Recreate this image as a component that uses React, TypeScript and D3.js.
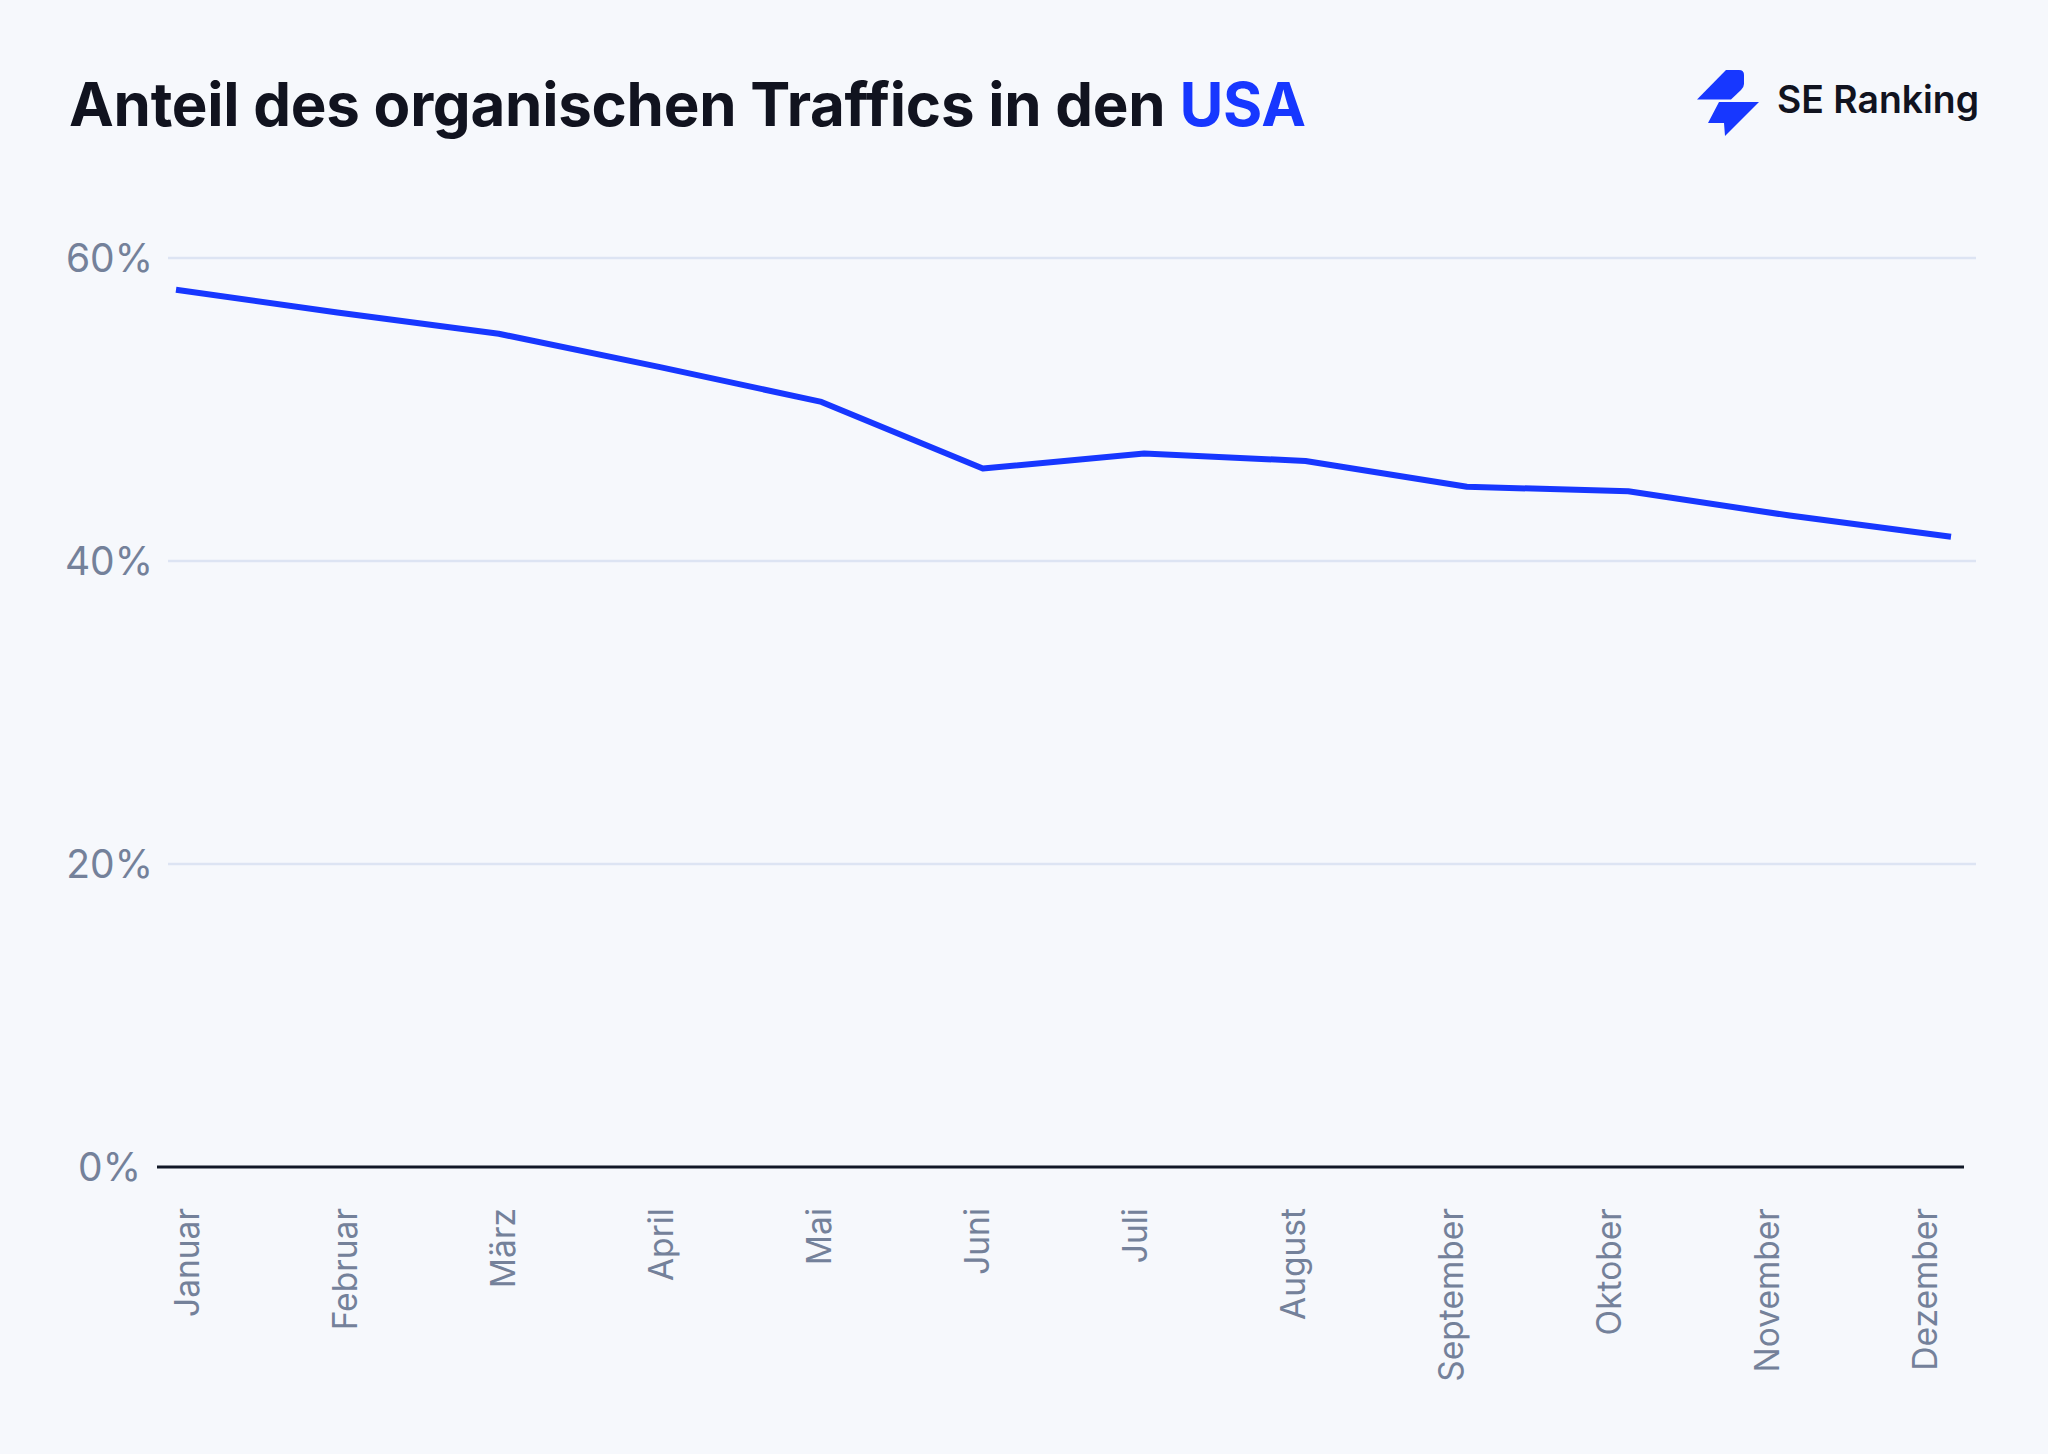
import React from "react";
import * as d3 from "d3";

const months = ["Januar", "Februar", "März", "April", "Mai", "Juni", "Juli", "August", "September", "Oktober", "November", "Dezember"];
const shares = [57.9, 56.4, 55.0, 52.8, 50.5, 46.1, 47.1, 46.6, 44.9, 44.6, 43.0, 41.6];
const yTicks = [0, 20, 40, 60];
const titleMain = "Anteil des organischen Traffics in den ";
const titleAccent = "USA";
const brand = "SE Ranking";

const W = 2048;
const H = 1454;
const BLUE = "#1737ff";
const DARK = "#11131f";
const GRAY = "#74819a";
const FONT = "Inter, 'Noto Sans', sans-serif";

export default function App() {
  const y = d3.scaleLinear().domain([0, 60]).range([1167, 258]);
  const x = d3.scalePoint<string>().domain(months).range([176, 1951]);
  const xl = d3.scalePoint<string>().domain(months).range([187, 1925]);
  const line = d3
    .line<number>()
    .x((_, i) => x(months[i]) as number)
    .y((d) => y(d));

  return (
    <svg
      width={W}
      height={H}
      viewBox={`0 0 ${W} ${H}`}
      style={{ position: "absolute", left: 0, top: 0, display: "block", background: "#f6f8fc" }}
    >
      <rect x={0} y={0} width={W} height={H} fill="#f6f8fc" />
      <text x={69} y={126} fontFamily={FONT} fontWeight={700} fontSize={60} fill={DARK} textLength={1237} lengthAdjust="spacing">
        {titleMain}
        <tspan fill={BLUE}>{titleAccent}</tspan>
      </text>

      {/* logo */}
      <g fill={BLUE}>
        <path d="M1697,99.5 L1726,70 L1739,70 Q1744,70 1744,75 L1744,84 Q1744,87 1741,90 L1731,99.5 Z" />
        <path d="M1719,102 L1759,102 L1725,136 L1724,123 L1708,123 Z" />
      </g>
      <text x={1777} y={113} fontFamily={FONT} fontWeight={600} fontSize={38} fill={DARK} textLength={202} lengthAdjust="spacingAndGlyphs">
        {brand}
      </text>

      {/* grid */}
      {yTicks.filter((t) => t > 0).map((t) => (
        <line key={t} x1={168} x2={1976} y1={y(t)} y2={y(t)} stroke="#dde4f3" strokeWidth={2.5} />
      ))}
      <line x1={157} x2={1964} y1={y(0)} y2={y(0)} stroke="#111827" strokeWidth={3} />

      {yTicks.map((t) => (
        <text
          key={t}
          x={t === 0 ? 141 : 153}
          y={y(t)}
          dy="0.36em"
          textAnchor="end"
          fontFamily={FONT}
          fontSize={39}
          fill={GRAY}
        >
          {t}%
        </text>
      ))}

      <path d={line(shares) || ""} fill="none" stroke={BLUE} strokeWidth={6} strokeLinejoin="round" />

      {months.map((m) => (
        <text
          key={m}
          transform={`translate(${xl(m)},1208) rotate(-90)`}
          dy="0.36em"
          textAnchor="end"
          fontFamily={FONT}
          fontSize={33.5}
          fill={GRAY}
        >
          {m}
        </text>
      ))}
    </svg>
  );
}
